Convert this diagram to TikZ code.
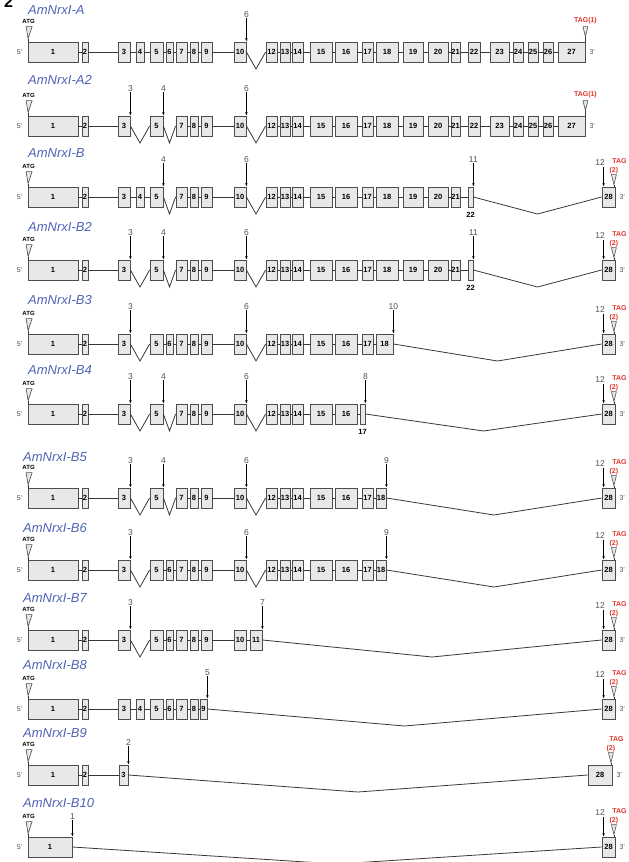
\documentclass[tikz,border=0pt]{standalone}
\usepackage{fontspec}
\setmainfont{Liberation Sans}
\usepackage{tikz}
\usetikzlibrary{arrows.meta,positioning,calc}
\definecolor{TitleBlue}{HTML}{4E62B6}
\definecolor{ExonLine}{HTML}{4D4D4D}
\definecolor{ExonFill}{HTML}{E8E8E8}
\definecolor{IntronGray}{HTML}{383838}
\definecolor{StopRed}{HTML}{E0362C}
\definecolor{SiteGray}{HTML}{505050}

\begin{document}
\begin{tikzpicture}[x=1pt, y=-1pt, >={Latex[length=3.2pt,width=2.6pt]}]
\tikzset{exon/.style={draw=ExonLine, line width=.8pt, fill=ExonFill, minimum height=20pt, inner sep=0pt, font=\fontsize{7.5}{7.5}\selectfont\bfseries}, intron/.style={draw=IntronGray, line width=.8pt}, title/.style={anchor=west, inner sep=0pt, text=TitleBlue, font=\fontsize{13}{13}\selectfont\itshape}, site/.style={inner sep=.5pt, text=SiteGray, font=\fontsize{8.5}{8.5}\selectfont}, sitearrow/.style={->, draw=black, line width=.7pt}, endlabel/.style={inner sep=0pt, text=SiteGray, font=\fontsize{7}{7}\selectfont}, codon/.style={inner sep=0pt, font=\fontsize{6}{6}\selectfont\bfseries}, stop/.style={inner sep=0pt, text=StopRed, font=\fontsize{7}{7}\selectfont\bfseries}, marker/.style={draw=ExonLine, fill=ExonFill, line width=.6pt}, stub/.style={inner sep=0pt, font=\fontsize{7.5}{7.5}\selectfont\bfseries}}
\useasboundingbox (0,0) rectangle (629,862);
\node[anchor=base west, inner sep=0pt, font=\fontsize{16}{16}\selectfont\bfseries] (fignum) at (4,8) {2};
% one row per transcript: name/centre y/title x/title y/exons (number/left/right/link: 0 none, 1 line, 2 skipped)
\foreach \r/\y/\lx/\ly/\exons in {A/52/28/10/{1/28/78/0,2/82/88/1,3/118/130/1,4/136/144/1,5/150/163/1,6/166/173/1,7/176/187/1,8/190/198/1,9/201/212/1,10/234/246/1,12/266/277/2,13/280/290/1,14/292/303/1,15/310/332/1,16/335/357/1,17/362/373/1,18/376/398/1,19/403/423/1,20/428/448/1,21/451/460/1,22/468/480/1,23/490/509/1,24/513/523/1,25/528/538/1,26/543/553/1,27/558/585/1},A2/126/28/80/{1/28/78/0,2/82/88/1,3/118/130/1,5/150/163/2,7/176/187/2,8/190/198/1,9/201/212/1,10/234/246/1,12/266/277/2,13/280/290/1,14/292/303/1,15/310/332/1,16/335/357/1,17/362/373/1,18/376/398/1,19/403/423/1,20/428/448/1,21/451/460/1,22/468/480/1,23/490/509/1,24/513/523/1,25/528/538/1,26/543/553/1,27/558/585/1},B/197/28/153/{1/28/78/0,2/82/88/1,3/118/130/1,4/136/144/1,5/150/163/1,7/176/187/2,8/190/198/1,9/201/212/1,10/234/246/1,12/266/277/2,13/280/290/1,14/292/303/1,15/310/332/1,16/335/357/1,17/362/373/1,18/376/398/1,19/403/423/1,20/428/448/1,21/451/460/1,22/468/473/1,28/602/615/2},B2/270/28/227/{1/28/78/0,2/82/88/1,3/118/130/1,5/150/163/2,7/176/187/2,8/190/198/1,9/201/212/1,10/234/246/1,12/266/277/2,13/280/290/1,14/292/303/1,15/310/332/1,16/335/357/1,17/362/373/1,18/376/398/1,19/403/423/1,20/428/448/1,21/451/460/1,22/468/473/1,28/602/615/2},B3/344/28/300/{1/28/78/0,2/82/88/1,3/118/130/1,5/150/163/2,6/166/173/1,7/176/187/1,8/190/198/1,9/201/212/1,10/234/246/1,12/266/277/2,13/280/290/1,14/292/303/1,15/310/332/1,16/335/357/1,17/362/373/1,18/376/393/1,28/602/615/2},B4/414/28/370/{1/28/78/0,2/82/88/1,3/118/130/1,5/150/163/2,7/176/187/2,8/190/198/1,9/201/212/1,10/234/246/1,12/266/277/2,13/280/290/1,14/292/303/1,15/310/332/1,16/335/357/1,17/360/365/1,28/602/615/2},B5/498/23/457/{1/28/78/0,2/82/88/1,3/118/130/1,5/150/163/2,7/176/187/2,8/190/198/1,9/201/212/1,10/234/246/1,12/266/277/2,13/280/290/1,14/292/303/1,15/310/332/1,16/335/357/1,17/362/373/1,18/376/386/1,28/602/615/2},B6/570/23/528/{1/28/78/0,2/82/88/1,3/118/130/1,5/150/163/2,6/166/173/1,7/176/187/1,8/190/198/1,9/201/212/1,10/234/246/1,12/266/277/2,13/280/290/1,14/292/303/1,15/310/332/1,16/335/357/1,17/362/373/1,18/376/386/1,28/602/615/2},B7/640/23/598/{1/28/78/0,2/82/88/1,3/118/130/1,5/150/163/2,6/166/173/1,7/176/187/1,8/190/198/1,9/201/212/1,10/234/246/1,11/250/262/1,28/602/615/2},B8/709/23/665/{1/28/78/0,2/82/88/1,3/118/130/1,4/136/144/1,5/150/163/1,6/166/173/1,7/176/187/1,8/190/198/1,9/200/207/1,28/602/615/2},B9/775/23/733/{1/28/78/0,2/82/88/1,3/119/128/1,28/588/612/2},B10/847/23/803/{1/28/72/0,28/602/615/2}}{
  \begin{scope}[shift={(0,\y)}]
  \foreach \n/\a/\b/\k [remember=\n as \p (initially 1)] in \exons {
    \pgfmathsetmacro\w{\b-\a}
    \ifdim\w pt<5.5pt
      \node[exon, minimum width=\w pt] (\r-\n) at ({(\a+\b)/2},0) {};
      \node[stub, below=4.5pt of \r-\n] (\r-\n-num) {\n};
    \else
      \node[exon, minimum width=\w pt] (\r-\n) at ({(\a+\b)/2},0) {\n};
    \fi
    \ifnum\k=1 \draw[intron] (\r-\p.east) -- (\r-\n.west); \fi
    \ifnum\k=2 \draw[intron] (\r-\p.east) -- ($(\r-\p.east)!.5!(\r-\n.west)+(0,17)$) -- (\r-\n.west); \fi
  }
  \end{scope}
  \node[title] (t\r) at (\lx,\ly) {AmNrxI-\r};
  \node[endlabel] (five\r) at ($(\r-1.west)+(-8,0)$) {5'};
  \node[codon] (atg\r) at ($(\r-1.north west)+(1,-20)$) {ATG};
  \draw[marker] ($(\r-1.north west)+(-1.5,-15)$) -- ++(6,0) -- ++(-4,12) -- cycle;
  \draw[intron] ($(\r-1.north west)+(.5,-3)$) -- ($(\r-1.north west)+(.5,0)$);
}
% 3' ends and stop codons
\foreach \r/\e in {A/27,A2/27,B/28,B2/28,B3/28,B4/28,B5/28,B6/28,B7/28,B8/28,B9/28,B10/28} {
  \node[endlabel, anchor=west] (three\r) at ($(\r-\e.east)+(4,0)$) {3'};
}
\foreach \r in {A,A2} {
  \node[stop] (tag\r) at ($(\r-27.north east)+(0,-21)$) {TAG(1)};
  \draw[marker] ($(\r-27.north east)+(-2.5,-15)$) -- ++(5,0) -- ++(-2.5,10) -- cycle;
  \draw[intron] ($(\r-27.north east)+(0,-5)$) -- (\r-27.north east);
}
\foreach \r in {B,B2,B3,B4,B5,B6,B7,B8,B9,B10} {
  \node[stop] (tag\r) at ($(\r-28.north east)+(4,-26)$) {TAG};
  \node[stop] (num\r) at ($(\r-28.north east)+(-1.5,-16)$) {(2)};
  \draw[marker] ($(\r-28.north east)+(-4,-12)$) -- ++(5,0) -- ++(-2.5,10) -- cycle;
  \draw[intron] ($(\r-28.north east)+(-1.5,-2)$) -- ($(\r-28.north east)+(-1.5,0)$);
}
% splice sites
\foreach \r in {B,B2,B3,B4,B5,B6,B7,B8,B10} {
  \node[site] (twelve\r) at ($(\r-28.north west)+(-1.5,-24)$) {12};
  \coordinate (k\r) at ($(\r-28.north west)+(2,-20)$);
  \coordinate (l\r) at ($(\r-28.north west)+(2,0)$);
  \draw[sitearrow] (k\r) -- (l\r);
}
\foreach \e/\s/\h in {A-10/6/27,A2-3/3/27,A2-5/4/27,A2-10/6/27,B-5/4/27,B-10/6/27,B-22/11/27,B2-3/3/27,B2-5/4/27,B2-10/6/27,B2-22/11/27,B3-3/3/27,B3-10/6/27,B3-18/10/27,B4-3/3/27,B4-5/4/27,B4-10/6/27,B4-17/8/27,B5-3/3/27,B5-5/4/27,B5-10/6/27,B5-18/9/27,B6-3/3/27,B6-10/6/27,B6-18/9/27,B7-3/3/27,B7-11/7/27,B8-9/5/26,B9-3/2/22,B10-1/1/20} {
  \node[site] (s\e) at ($(\e.north east)+(0,-\h)$) {\s};
  \draw[sitearrow] (s\e) -- (\e.north east);
}
\end{tikzpicture}
\end{document}
